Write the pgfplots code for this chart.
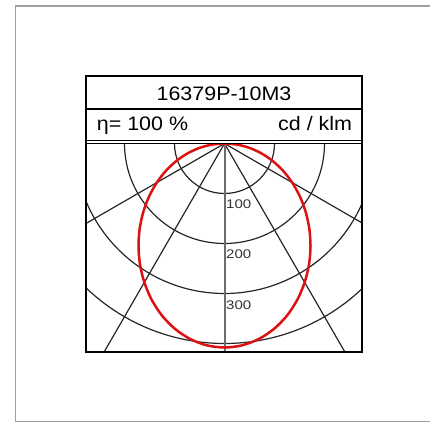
\documentclass[border=0pt]{standalone}
\usepackage{pgfplots}
\pgfplotsset{compat=1.18}
\usepackage{fontspec}
\setmainfont{Liberation Sans}
\definecolor{gridc}{HTML}{262626}
\definecolor{curvec}{HTML}{DD1111}
\newcommand\hdr[1]{\scalebox{1.1}[1]{\fontsize{19.5}{20}\selectfont #1}}
\newcommand\lab[1]{\scalebox{1.2}[1]{\fontsize{12.5}{13}\selectfont #1}}
\begin{document}
\begin{tikzpicture}[x=1pt,y=1pt]
\useasboundingbox (0,0) rectangle (430,423);
\draw[gray!75, line width=1.5pt] (431,417) -- (15.5,417) -- (15.5,1.5) -- (431,1.5);
\begin{axis}[at={(86pt,71pt)}, anchor=south west, width=276pt, height=208.5pt,
  scale only axis, xmin=-277, xmax=275, ymin=-417, ymax=0, hide axis, clip=true]
  % grid circles
  \pgfplotsinvokeforeach{100,200,300,400,500}{
    \draw[gridc, line width=1.2pt] (axis cs:0,0) circle [radius=#1];
  }
  % radial lines
  \draw[gridc, line width=1.2pt] (axis cs:0,0) -- (axis cs:300,-519.6);
  \draw[gridc, line width=1.2pt] (axis cs:0,0) -- (axis cs:-300,-519.6);
  \draw[gridc, line width=1.2pt] (axis cs:0,0) -- (axis cs:519.6,-300);
  \draw[gridc, line width=1.2pt] (axis cs:0,0) -- (axis cs:-519.6,-300);
  \draw[gray!85!black, line width=2pt] (axis cs:0,0) -- (axis cs:0,-420);
  % curve
  \addplot[curvec, line width=2.5pt, smooth, data cs=polar] coordinates {
    (0,0) (-5,25.3) (-10,50.8) (-15,76.6) (-20,102.7) (-25,129.3) (-30,156.3)
    (-35,183.8) (-40,211.7) (-45,239.7) (-50,267.6) (-55,294.8) (-60,320.7)
    (-65,344.7) (-70,366.0) (-75,383.6) (-80,396.9) (-85,405.2) (-90,408)
    (-95,405.2) (-100,396.9) (-105,383.6) (-110,366.0) (-115,344.7) (-120,320.7)
    (-125,294.8) (-130,267.6) (-135,239.7) (-140,211.7) (-145,183.8) (-150,156.3)
    (-155,129.3) (-160,102.7) (-165,76.6) (-170,50.8) (-175,25.3) (-180,0)
  };
  \pgfplotsinvokeforeach{100,200,300}{
    \node[anchor=base west, inner sep=0pt, xshift=1.5pt, yshift=-15.5pt, text=black!80]
      at (axis cs:0,-#1) {\lab{#1}};
  }
\end{axis}
% header
\draw[black, line width=1.5pt] (86,314) -- (362,314);
\draw[black, line width=1.1pt] (86,282.5) -- (362,282.5);
\draw[black, line width=1.1pt] (86,279.5) -- (362,279.5);
\draw[black, line width=2.2pt] (86,71) rectangle (362,347);
\node[anchor=base, inner sep=0pt] at (224,322.3) {\hdr{16379P-10M3}};
\node[anchor=base west, inner sep=0pt] at (96.7,292.3) {\hdr{η= 100 \%}};
\node[anchor=base east, inner sep=0pt] at (352.3,292.3) {\hdr{cd / klm}};
\end{tikzpicture}
\end{document}
